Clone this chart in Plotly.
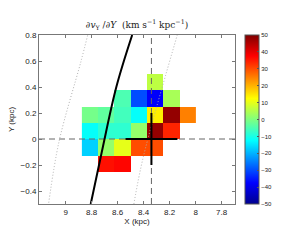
import plotly.graph_objects as go

# Bin centres (kpc)
x_centers = [8.8125, 8.6875, 8.5625, 8.4375, 8.3125, 8.1875, 8.0625]
y_centers = [-0.1875, -0.0625, 0.0625, 0.1875, 0.3125, 0.4375]
N = None
# dvY/dY values (km s^-1 kpc^-1), rows bottom->top
z_vals = [
    [N, 36, 37, N, N, N, N],
    [-17, 2, 10, 30, 30, N, N],
    [-12, -8, -8, 2, 48, 34, N],
    [-1, -3, -6, -12, 14, 48, 25],
    [N, N, -5, -30, -38, 4, N],
    [N, N, N, N, 6, N, N],
]

# Arm locus and its edges
arm_y = [-0.5, -0.1, 0.4, 0.8]
arm_x = [8.807, 8.722, 8.61, 8.488]
inner_y = [-0.5, -0.14, 0.8]
inner_x = [8.475, 8.403, 8.141]
outer_y = [-0.49, -0.02, 0.59, 0.8]
outer_x = [9.13, 9.051, 8.884, 8.83]

# Sun position and cross
sun_x = 8.34
sun_y = 0.0
cross_half = 0.2

x_ticks = [9, 8.8, 8.6, 8.4, 8.2, 8, 7.8]
x_labels = ["9", "8.8", "8.6", "8.4", "8.2", "8", "7.8"]
y_ticks = [0.8, 0.6, 0.4, 0.2, 0, -0.2, -0.4]
y_labels = ["0.8", "0.6", "0.4", "0.2", "0", "\u22120.2", "\u22120.4"]
cb_ticks = [50, 40, 30, 20, 10, 0, -10, -20, -30, -40, -50]
cb_labels = [str(t).replace("-", "\u2212") for t in cb_ticks]

jet = [
    [0.0, "rgb(0,0,143)"],
    [0.125, "rgb(0,0,255)"],
    [0.375, "rgb(0,255,255)"],
    [0.625, "rgb(255,255,0)"],
    [0.875, "rgb(255,0,0)"],
    [1.0, "rgb(128,0,0)"],
]

fig = go.Figure()
fig.add_trace(go.Heatmap(
    x=x_centers, y=y_centers, z=z_vals, zmin=-50, zmax=50,
    colorscale=jet, hoverongaps=False,
    colorbar=dict(
        x=1.051, xanchor="left", y=0.5, yanchor="middle", len=1.0,
        lenmode="fraction", thickness=14, thicknessmode="pixels",
        outlinewidth=1, outlinecolor="#555",
        tickvals=cb_ticks, ticktext=cb_labels, ticks="inside", ticklen=2,
        tickcolor="#555",
        tickfont=dict(family="Liberation Sans", size=6, color="#222"),
        xpad=0, ypad=0,
    ),
))

dash_col = "#666"
fig.add_trace(go.Scatter(x=[sun_x, sun_x], y=[-0.5, 0.8], mode="lines",
                         line=dict(color=dash_col, width=1, dash="6px,4px")))
fig.add_trace(go.Scatter(x=[9.205, 7.697], y=[sun_y, sun_y], mode="lines",
                         line=dict(color=dash_col, width=1, dash="6px,4px")))
for xs, ys in [(inner_x, inner_y), (outer_x, outer_y)]:
    fig.add_trace(go.Scatter(x=xs, y=ys, mode="lines", line_shape="spline",
                             line=dict(color="#b0b0b0", width=1, dash="1px,2px")))
fig.add_trace(go.Scatter(x=arm_x, y=arm_y, mode="lines", line_shape="spline",
                         line=dict(color="black", width=2)))
fig.add_trace(go.Scatter(x=[sun_x - cross_half, sun_x + cross_half], y=[sun_y, sun_y],
                         mode="lines", line=dict(color="black", width=2)))
fig.add_trace(go.Scatter(x=[sun_x, sun_x], y=[sun_y - cross_half, sun_y + cross_half],
                         mode="lines", line=dict(color="black", width=2)))

axis_common = dict(showgrid=False, zeroline=False, showline=True, linecolor="#777",
                   linewidth=1, mirror="allticks", ticks="inside", ticklen=3,
                   tickcolor="#777",
                   tickfont=dict(family="Liberation Sans", size=8, color="#222"))

fig.update_layout(
    width=300, height=250,
    margin=dict(l=39, r=65, t=35, b=46),
    paper_bgcolor="white", plot_bgcolor="white",
    showlegend=False,
    title=dict(
        text="\u2202<i>v</i><sub>Y</sub> /\u2202<i>Y</i>  (km s<sup>\u22121</sup> kpc<sup>\u22121</sup>)",
        x=137 / 300, xanchor="center", y=1 - 25 / 250, yanchor="middle",
        font=dict(family="DejaVu Serif", size=9, color="#222"),
    ),
    xaxis=dict(range=[9.205, 7.697], tickvals=x_ticks, ticktext=x_labels,
               title=dict(text="X (kpc)", standoff=2,
                          font=dict(family="Liberation Sans", size=8, color="#222")),
               **axis_common),
    yaxis=dict(range=[-0.5, 0.8], tickvals=y_ticks, ticktext=y_labels,
               title=dict(text="Y (kpc)", standoff=4,
                          font=dict(family="Liberation Sans", size=8, color="#222")),
               **axis_common),
)

fig.write_html("out.html", config={"displayModeBar": False},
               post_script="document.body.style.margin='0';document.body.style.padding='0';")
